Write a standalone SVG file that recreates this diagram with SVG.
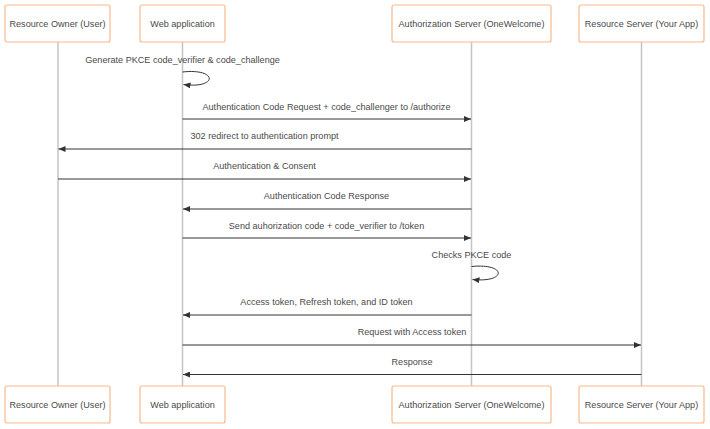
<svg xmlns="http://www.w3.org/2000/svg" width="710" height="429" viewBox="0 0 710 429">
<defs>
<marker id="ah" markerWidth="8" markerHeight="6" refX="7" refY="3" orient="auto" markerUnits="userSpaceOnUse">
<path d="M0,0 L7,3 L0,6 Z" fill="#333"/>
</marker>
<style>
.box{fill:#fff;stroke:#f9b98c;stroke-width:1.2}
.life{stroke:#c4c4c4;stroke-width:1.5;fill:none}
.msg{stroke:#333;stroke-width:1;fill:none;marker-end:url(#ah)}
.t{font-family:"Liberation Sans",Arial,sans-serif;font-size:9.1px;fill:#4a4a4a;text-anchor:middle}
</style>
</defs>
<rect width="710" height="429" fill="#fff"/>
<g id="lifelines">
<line class="life" x1="58" y1="42" x2="58" y2="386"/>
<line class="life" x1="182.5" y1="42" x2="182.5" y2="386"/>
<line class="life" x1="471.5" y1="42" x2="471.5" y2="386"/>
<line class="life" x1="641.5" y1="42" x2="641.5" y2="386"/>
</g>
<g id="owner-top"><rect class="box" x="5" y="5" width="105" height="37" rx="2"/><text class="t" x="57.5" y="27">Resource Owner (User)</text></g>
<g id="webapp-top"><rect class="box" x="140" y="5" width="85" height="37" rx="2"/><text class="t" x="182.5" y="27">Web application</text></g>
<g id="authserver-top"><rect class="box" x="392" y="5" width="159" height="37" rx="2"/><text class="t" x="471.5" y="27">Authorization Server (OneWelcome)</text></g>
<g id="resserver-top"><rect class="box" x="579" y="5" width="125" height="37" rx="2"/><text class="t" x="641.5" y="27">Resource Server (Your App)</text></g>
<g id="owner-bottom"><rect class="box" x="5" y="386" width="105" height="37" rx="2"/><text class="t" x="57.5" y="408">Resource Owner (User)</text></g>
<g id="webapp-bottom"><rect class="box" x="140" y="386" width="85" height="37" rx="2"/><text class="t" x="182.5" y="408">Web application</text></g>
<g id="authserver-bottom"><rect class="box" x="392" y="386" width="159" height="37" rx="2"/><text class="t" x="471.5" y="408">Authorization Server (OneWelcome)</text></g>
<g id="resserver-bottom"><rect class="box" x="579" y="386" width="125" height="37" rx="2"/><text class="t" x="641.5" y="408">Resource Server (Your App)</text></g>
<g id="connectors">
<path class="msg" d="M182.5,72 C218,68 218,89 183.5,84.5"/>
<line class="msg" x1="182.5" y1="119" x2="471" y2="119"/>
<line class="msg" x1="471.5" y1="149" x2="58.5" y2="149"/>
<line class="msg" x1="58" y1="179" x2="471" y2="179"/>
<line class="msg" x1="471.5" y1="209" x2="183" y2="209"/>
<line class="msg" x1="182.5" y1="238" x2="471" y2="238"/>
<path class="msg" d="M471.5,266.5 C507,263 507,283 472.5,279.5"/>
<line class="msg" x1="471.5" y1="315" x2="183" y2="315"/>
<line class="msg" x1="182.5" y1="345" x2="641" y2="345"/>
<line class="msg" x1="641.5" y1="374.5" x2="183" y2="374.5"/>
</g>
<g id="labels">
<text class="t" x="182.5" y="63">Generate PKCE code_verifier &amp; code_challenge</text>
<text class="t" x="326.5" y="110">Authentication Code Request + code_challenger to /authorize</text>
<text class="t" x="264.5" y="139">302 redirect to authentication prompt</text>
<text class="t" x="264.5" y="169">Authentication &amp; Consent</text>
<text class="t" x="326.5" y="199">Authentication Code Response</text>
<text class="t" x="326.5" y="229">Send auhorization code + code_verifier to /token</text>
<text class="t" x="471.5" y="258">Checks PKCE code</text>
<text class="t" x="326.5" y="305">Access token, Refresh token, and ID token</text>
<text class="t" x="412" y="335">Request with Access token</text>
<text class="t" x="412" y="365">Response</text>
</g>
</svg>
